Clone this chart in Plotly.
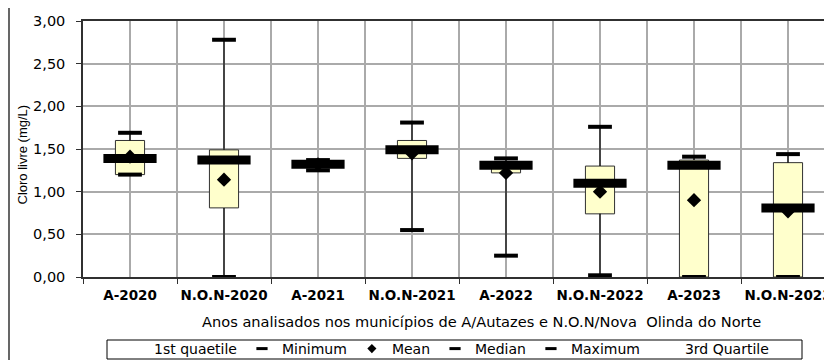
import plotly.graph_objects as go

categories = ["A-2020", "N.O.N-2020", "A-2021", "N.O.N-2021",
              "A-2022", "N.O.N-2022", "A-2023", "N.O.N-2023"]
minimum = [1.20, 0.00, 1.25, 0.55, 0.25, 0.02, 0.00, 0.00]
q1      = [1.20, 0.81, 1.30, 1.39, 1.22, 0.74, 0.00, 0.00]
median  = [1.39, 1.37, 1.32, 1.49, 1.31, 1.10, 1.31, 0.81]
mean    = [1.41, 1.14, 1.32, 1.45, 1.22, 1.00, 0.90, 0.77]
q3      = [1.60, 1.49, 1.34, 1.60, 1.33, 1.30, 1.37, 1.34]
maximum = [1.69, 2.78, 1.37, 1.81, 1.39, 1.76, 1.41, 1.44]

y_title = "Cloro livre (mg/L)"
x_title = "Anos analisados nos municípios de A/Autazes e N.O.N/Nova  Olinda do Norte"
legend_names = ["1st quaetile", "Minimum", "Mean", "Median", "Maximum", "3rd Quartile"]

# The page body adds an 8 px offset; lay out in screen pixels and shift.
OFF = 8
W, H = 832, 360
ML = 83 - OFF
MT = 21 - OFF
MR = W - (832 - OFF)
MB = H - (277 - OFF)
pw = W - ML - MR
ph = H - MT - MB

def px_x(p):
    return (p - OFF - ML) / pw

def px_y(p):
    return (H - MB - (p - OFF)) / ph

xs = list(range(len(categories)))
fig = go.Figure()

# boxes (Q1 -> Q3)
fig.add_trace(go.Bar(
    x=xs, y=[b - a for a, b in zip(q1, q3)], base=q1, width=0.31,
    marker=dict(color="#FFFFCC", line=dict(color="#303030", width=1)),
    showlegend=False, hoverinfo="skip"))

# whiskers
wx, wy = [], []
for i in xs:
    wx += [i, i, None, i, i, None]
    wy += [minimum[i], q1[i], None, q3[i], maximum[i], None]
fig.add_trace(go.Scatter(x=wx, y=wy, mode="lines",
                         line=dict(color="black", width=1.2),
                         showlegend=False, hoverinfo="skip"))

def dash(vals, size, lw):
    fig.add_trace(go.Scatter(
        x=xs, y=vals, mode="markers",
        marker=dict(symbol="line-ew", size=size, color="black",
                    line=dict(color="black", width=lw)),
        showlegend=False))

dash(minimum, 17, 4)
dash(maximum, 17, 4)
fig.add_trace(go.Scatter(x=xs, y=mean, mode="markers",
                         marker=dict(symbol="diamond", size=11, color="black"),
                         showlegend=False))
dash(median, 38, 9)

# legend-only entries
fig.add_trace(go.Bar(x=[None], y=[None], name=legend_names[0],
                     marker=dict(color="rgba(0,0,0,0)", line=dict(width=0))))
fig.add_trace(go.Scatter(x=[None], y=[None], mode="markers", name=legend_names[1],
                         marker=dict(symbol="line-ew", size=8, line=dict(color="black", width=3))))
fig.add_trace(go.Scatter(x=[None], y=[None], mode="markers", name=legend_names[2],
                         marker=dict(symbol="diamond", size=7, color="black")))
fig.add_trace(go.Scatter(x=[None], y=[None], mode="markers", name=legend_names[3],
                         marker=dict(symbol="line-ew", size=8, line=dict(color="black", width=3))))
fig.add_trace(go.Scatter(x=[None], y=[None], mode="markers", name=legend_names[4],
                         marker=dict(symbol="line-ew", size=8, line=dict(color="black", width=3))))
fig.add_trace(go.Bar(x=[None], y=[None], name=legend_names[5],
                     marker=dict(color="rgba(0,0,0,0)", line=dict(width=0))))

grid = "#aaaaaa"
fig.update_layout(
    width=W, height=H,
    margin=dict(l=ML, r=MR, t=MT, b=MB, autoexpand=False),
    paper_bgcolor="white", plot_bgcolor="white",
    separators=",.",
    barmode="overlay",
    font=dict(family="DejaVu Sans", color="black"),
    showlegend=True,
    legend=dict(orientation="h", x=px_x(114), y=px_y(333),
                xanchor="left", yanchor="top",
                borderwidth=0, bgcolor="rgba(0,0,0,0)",
                font=dict(family="DejaVu Sans", size=14, color="black"),
                traceorder="normal", itemclick=False),
    xaxis=dict(range=[-0.5, -0.5 + pw / 94.0],
               tickmode="array", tickvals=xs, ticktext=categories,
               ticks="", showgrid=True, gridcolor=grid, gridwidth=2,
               tickfont=dict(family="DejaVu Sans", size=13.5, weight="bold", color="black"),
               ticklabelstandoff=5,
               minor=dict(tickmode="array", tickvals=[i - 0.5 for i in range(len(categories) + 1)],
                          ticks="outside", ticklen=5, tickcolor="#303030",
                          showgrid=True, gridcolor=grid, gridwidth=2),
               showline=True, linecolor="#303030", linewidth=1.5, mirror=True,
               zeroline=False, fixedrange=True),
    yaxis=dict(range=[0, 3], dtick=0.5, tick0=0, tickformat=".2f",
               ticks="outside", ticklen=5, tickcolor="#303030",
               showgrid=True, gridcolor=grid, gridwidth=2,
               tickfont=dict(family="DejaVu Sans", size=14.5, color="black"),
               ticklabelstandoff=8,
               showline=True, linecolor="#303030", linewidth=1.5,
               zeroline=False, fixedrange=True),
    annotations=[
        dict(text=x_title, xref="paper", yref="paper", x=px_x(482), y=px_y(321),
             xanchor="center", yanchor="middle", showarrow=False,
             font=dict(family="DejaVu Sans", size=14.6, color="black")),
        dict(text=y_title, xref="paper", yref="paper", x=px_x(21.5), y=px_y(155),
             xanchor="center", yanchor="middle", showarrow=False, textangle=-90,
             font=dict(family="Liberation Sans", size=13, color="black")),
    ],
    shapes=[
        dict(type="line", xref="paper", yref="paper", x0=px_x(9), x1=px_x(9),
             y0=px_y(7), y1=px_y(400), line=dict(color="black", width=1.2)),
        dict(type="line", xref="paper", yref="paper", x0=px_x(9), x1=px_x(900),
             y0=px_y(7), y1=px_y(7), line=dict(color="black", width=1.2)),
        dict(type="rect", xref="paper", yref="paper", x0=px_x(107), x1=px_x(802),
             y0=px_y(359), y1=px_y(340), line=dict(color="black", width=1)),
    ],
)

fig.write_html("out.html")
